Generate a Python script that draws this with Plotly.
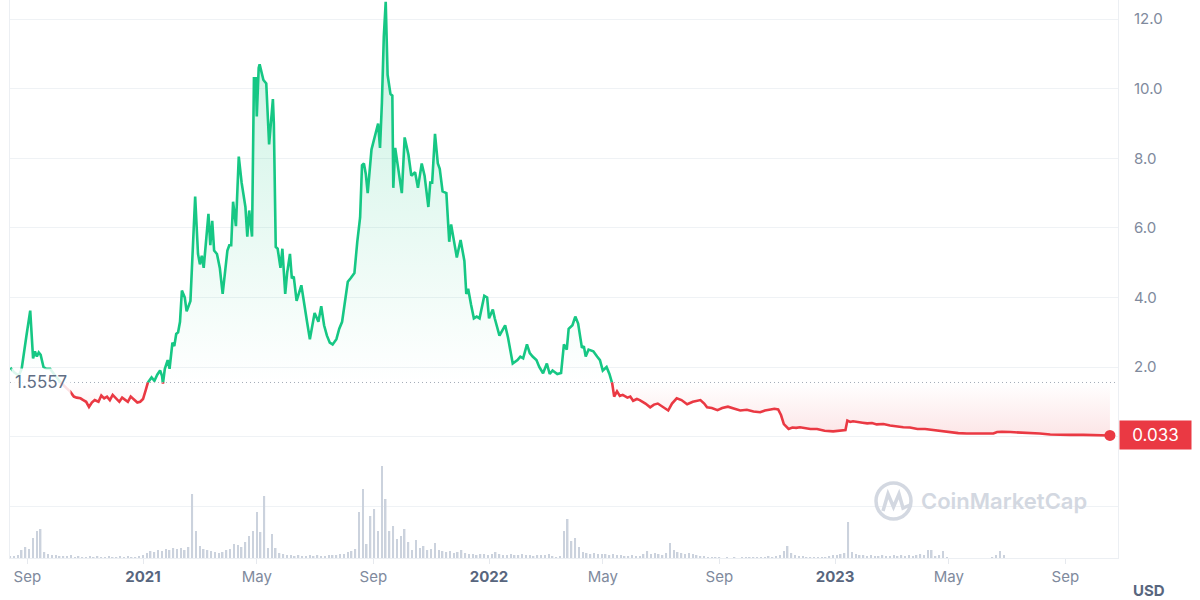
import numpy as np
import pandas as pd
import plotly.graph_objects as go

# ---------------- data ----------------
price_dates = [
    "2020-08-14", "2020-08-18", "2020-08-23", "2020-08-26", "2020-08-31",
    "2020-09-04", "2020-09-07", "2020-09-09", "2020-09-11", "2020-09-13",
    "2020-09-15", "2020-09-18", "2020-09-21", "2020-09-25", "2020-09-29",
    "2020-10-03", "2020-10-08", "2020-10-12", "2020-10-16", "2020-10-20",
    "2020-10-23", "2020-10-27", "2020-10-30", "2020-11-02", "2020-11-05",
    "2020-11-08", "2020-11-11", "2020-11-15", "2020-11-18", "2020-11-21",
    "2020-11-24", "2020-11-27", "2020-11-30", "2020-12-04", "2020-12-07",
    "2020-12-10", "2020-12-13", "2020-12-16", "2020-12-19", "2020-12-23",
    "2020-12-26", "2020-12-29", "2021-01-01", "2021-01-04", "2021-01-06",
    "2021-01-08", "2021-01-10", "2021-01-13", "2021-01-16", "2021-01-19",
    "2021-01-21", "2021-01-22", "2021-01-24", "2021-01-27", "2021-01-29",
    "2021-02-01", "2021-02-03", "2021-02-05", "2021-02-07", "2021-02-09",
    "2021-02-11", "2021-02-14", "2021-02-16", "2021-02-20", "2021-02-23",
    "2021-02-25", "2021-02-28", "2021-03-02", "2021-03-04", "2021-03-06",
    "2021-03-11", "2021-03-13", "2021-03-15", "2021-03-17", "2021-03-20",
    "2021-03-23", "2021-03-26", "2021-03-31", "2021-04-02", "2021-04-04",
    "2021-04-06", "2021-04-09", "2021-04-12", "2021-04-15", "2021-04-19",
    "2021-04-21", "2021-04-23", "2021-04-26", "2021-04-28", "2021-04-30",
    "2021-05-01", "2021-05-03", "2021-05-04", "2021-05-08", "2021-05-11",
    "2021-05-14", "2021-05-18", "2021-05-19", "2021-05-21", "2021-05-23",
    "2021-05-26", "2021-05-28", "2021-05-31", "2021-06-02", "2021-06-05",
    "2021-06-07", "2021-06-09", "2021-06-12", "2021-06-17", "2021-06-20",
    "2021-06-23", "2021-06-26", "2021-06-29", "2021-07-01", "2021-07-05",
    "2021-07-08", "2021-07-11", "2021-07-14", "2021-07-17", "2021-07-20",
    "2021-07-24", "2021-07-27", "2021-07-30", "2021-08-02", "2021-08-05",
    "2021-08-08", "2021-08-12", "2021-08-15", "2021-08-18", "2021-08-20",
    "2021-08-22", "2021-08-24", "2021-08-26", "2021-08-30", "2021-09-03",
    "2021-09-06", "2021-09-08", "2021-09-10", "2021-09-12", "2021-09-14",
    "2021-09-16", "2021-09-19", "2021-09-21", "2021-09-22", "2021-09-24",
    "2021-09-27", "2021-10-01", "2021-10-04", "2021-10-08", "2021-10-11",
    "2021-10-15", "2021-10-18", "2021-10-22", "2021-10-25", "2021-10-29",
    "2021-10-31", "2021-11-02", "2021-11-05", "2021-11-08", "2021-11-10",
    "2021-11-13", "2021-11-17", "2021-11-20", "2021-11-22", "2021-11-28",
    "2021-12-02", "2021-12-06", "2021-12-08", "2021-12-10", "2021-12-13",
    "2021-12-16", "2021-12-19", "2021-12-22", "2021-12-27", "2021-12-30",
    "2022-01-01", "2022-01-05", "2022-01-07", "2022-01-12", "2022-01-18",
    "2022-01-21", "2022-01-26", "2022-01-31", "2022-02-03", "2022-02-06",
    "2022-02-10", "2022-02-13", "2022-02-16", "2022-02-20", "2022-02-23",
    "2022-02-27", "2022-03-03", "2022-03-06", "2022-03-09", "2022-03-14",
    "2022-03-18", "2022-03-21", "2022-03-24", "2022-03-26", "2022-03-30",
    "2022-04-02", "2022-04-05", "2022-04-09", "2022-04-11", "2022-04-13",
    "2022-04-16", "2022-04-21", "2022-04-25", "2022-04-28", "2022-05-01",
    "2022-05-05", "2022-05-08", "2022-05-11", "2022-05-13", "2022-05-16",
    "2022-05-19", "2022-05-22", "2022-05-27", "2022-05-30", "2022-06-02",
    "2022-06-06", "2022-06-09", "2022-06-15", "2022-06-20", "2022-06-24",
    "2022-06-28", "2022-07-04", "2022-07-09", "2022-07-13", "2022-07-18",
    "2022-07-23", "2022-07-29", "2022-08-04", "2022-08-12", "2022-08-16",
    "2022-08-19", "2022-08-24", "2022-08-30", "2022-09-04", "2022-09-10",
    "2022-09-17", "2022-09-23", "2022-09-30", "2022-10-07", "2022-10-14",
    "2022-10-19", "2022-10-25", "2022-10-29", "2022-11-02", "2022-11-05",
    "2022-11-08", "2022-11-13", "2022-11-17", "2022-11-21", "2022-11-25",
    "2022-11-30", "2022-12-06", "2022-12-13", "2022-12-21", "2022-12-30",
    "2023-01-06", "2023-01-12", "2023-01-14", "2023-01-17", "2023-01-20",
    "2023-01-25", "2023-01-30", "2023-02-04", "2023-02-09", "2023-02-14",
    "2023-02-21", "2023-02-28", "2023-03-07", "2023-03-14", "2023-03-21",
    "2023-03-29", "2023-04-06", "2023-04-14", "2023-04-22", "2023-05-02",
    "2023-05-11", "2023-05-20", "2023-05-29", "2023-06-08", "2023-06-17",
    "2023-06-21", "2023-06-26", "2023-07-05", "2023-07-15", "2023-07-29",
    "2023-08-05", "2023-08-16", "2023-08-26", "2023-09-06", "2023-09-20",
    "2023-10-02", "2023-10-18",
]
price_values = [
    1.98, 1.85, 1.75, 1.95, 2.9,
    3.62, 2.25, 2.45, 2.3, 2.42,
    2.35, 2.0, 1.95, 1.95, 1.8,
    1.65, 1.5, 1.4, 1.3, 1.15,
    1.12, 1.1, 1.05, 1.0, 0.85,
    0.98, 1.05, 1.0, 1.18, 1.1,
    1.15, 1.05, 1.2, 1.1, 1.0,
    1.12, 1.05, 1.0, 1.15, 1.05,
    0.98, 1.0, 1.08, 1.35, 1.55,
    1.62, 1.7, 1.6, 1.78, 1.9,
    1.75, 1.52, 1.95, 2.2, 1.95,
    2.7, 2.6, 2.95, 3.0, 3.3,
    4.2, 4.0, 3.6, 3.9, 5.8,
    6.9, 5.25, 4.95, 5.2, 4.85,
    6.4, 5.5, 6.2, 5.35, 5.25,
    4.85, 4.1, 5.35, 5.5, 5.5,
    6.75, 6.05, 8.05, 7.3, 6.6,
    5.75, 6.5, 5.75, 10.3, 10.3,
    9.2, 10.6, 10.7, 10.25, 10.15,
    8.4, 9.7, 9.0, 5.45, 5.4,
    4.85, 5.4, 4.1, 4.7, 5.25,
    4.55, 4.6, 3.9, 4.35, 3.75,
    3.3, 2.8, 3.3, 3.55, 3.3,
    3.75, 3.2, 2.9, 2.7, 2.65,
    2.8, 3.1, 3.3, 3.95, 4.45,
    4.55, 4.7, 5.6, 6.3, 7.8,
    7.85, 7.55, 7.0, 8.25, 8.7,
    9.0, 8.3, 9.6, 11.5, 12.5,
    10.4, 9.85, 9.8, 7.15, 8.3,
    7.7, 7.0, 8.6, 8.1, 7.5,
    7.6, 7.15, 7.85, 7.5, 6.6,
    7.3, 7.3, 8.7, 7.85, 7.7,
    7.05, 7.0, 5.6, 6.1, 5.15,
    5.65, 5.05, 4.1, 4.25, 3.8,
    3.4, 3.45, 3.4, 4.05, 4.0,
    3.4, 3.65, 3.4, 2.9, 3.2,
    2.85, 2.1, 2.2, 2.3, 2.25,
    2.65, 2.4, 2.3, 2.2, 2.0,
    1.82, 2.1, 1.8, 1.9, 1.8,
    1.83, 2.65, 2.5, 3.1, 3.2,
    3.45, 3.25, 2.55, 2.6, 2.3,
    2.5, 2.45, 2.3, 2.2, 1.9,
    2.0, 1.8, 1.52, 1.15, 1.3,
    1.17, 1.2, 1.12, 1.15, 1.03,
    1.08, 1.05, 0.95, 0.84, 0.92,
    0.95, 0.85, 0.75, 0.95, 1.1,
    1.05, 0.93, 1.0, 1.05, 0.95,
    0.84, 0.82, 0.76, 0.82, 0.86,
    0.8, 0.75, 0.77, 0.72, 0.7,
    0.75, 0.78, 0.8, 0.78, 0.62,
    0.36, 0.22, 0.26, 0.25, 0.27,
    0.25, 0.22, 0.22, 0.17, 0.15,
    0.16, 0.19, 0.46, 0.42, 0.44,
    0.41, 0.4, 0.38, 0.39, 0.35,
    0.36, 0.32, 0.29, 0.27, 0.26,
    0.22, 0.22, 0.19, 0.17, 0.12,
    0.1, 0.09, 0.09, 0.09, 0.09,
    0.13, 0.14, 0.13, 0.12, 0.1,
    0.09, 0.06, 0.05, 0.05, 0.05,
    0.04, 0.033,
]

# trading volume (arbitrary units), one value every 4 days from volume_start
volume_start = "2020-08-14"
volume_step = "4D"
volume_values = [
    2, 2, 3, 8, 11, 9, 20, 27, 29, 6, 4,
    3, 3, 2, 2, 2, 3,
    1, 2, 1, 1, 2, 1, 2, 1, 1, 2, 1, 1, 2, 1, 2, 1, 1, 2,
    3, 5, 7, 6, 8, 7, 9, 8, 10, 9, 10, 8, 11,
    64, 27, 12, 9, 8, 7, 6, 5, 6, 8, 9,
    14, 13, 11, 16, 22, 27, 46, 26, 62, 10, 24, 10, 5, 4,
    3, 3, 2, 3, 2, 2, 3, 2, 3, 2, 2, 3, 3, 3, 4, 4,
    6, 7, 9,
    46, 69, 14, 42, 49, 27, 92, 59, 27, 32, 19, 22, 29, 16,
    8, 18, 10, 12, 8, 9, 15, 8, 7, 6, 7, 5, 6, 8,
    5, 4, 4, 3, 4, 4, 3, 4, 6, 4, 3,
    3, 4, 3, 3, 4, 3, 3, 2, 3,
    3, 3, 4, 2, 1, 2,
    27, 39, 17, 20, 11, 6, 5, 4, 5, 4, 4, 4, 3, 4,
    3, 3, 2, 2, 3, 2, 2, 4, 7, 4, 5, 4, 3, 5,
    15, 8, 6, 5, 4, 5, 4, 3, 2, 2, 1, 1, 1,
    1, 0, 1, 0, 1, 0, 1, 1, 1,
    1, 1, 1, 1, 2, 1, 2, 3, 7, 12, 5, 3, 2, 2, 1,
    1, 1, 1, 1, 1, 2, 3, 3, 4,
    5, 36, 6, 4, 3, 3, 2, 3, 2, 2, 3, 2, 2, 3, 2, 3, 2, 3, 2, 3,
    4, 3, 8, 8, 2, 3, 7, 1,
    0, 0, 0, 0, 0, 0, 0, 0, 0, 0, 0,
    1, 3, 7, 3,
    0, 0, 0, 0, 0, 0, 0, 0, 0, 0, 0, 0, 0, 0,
    0, 0, 0, 0, 0, 0, 0, 0, 0, 0, 0, 0, 0, 0,
]

baseline_value = 1.5557
baseline_label = "1.5557"
last_price_label = "0.033"

y_tick_values = [-2, 0, 2, 4, 6, 8, 10, 12]
y_tick_labels = ["", "", "2.0", "4.0", "6.0", "8.0", "10.0", "12.0"]

x_tick_dates = ["2020-09-01", "2021-01-01", "2021-05-01", "2021-09-01", "2022-01-01",
                "2022-05-01", "2022-09-01", "2023-01-01", "2023-05-01", "2023-09-01"]
x_tick_labels = ["Sep", "2021", "May", "Sep", "2022", "May", "Sep", "2023", "May", "Sep"]

assert len(price_dates) == len(price_values)

# ---------------- colours ----------------
GREEN = "#16c784"
RED = "#ea3943"
GRID = "#eff2f5"
TICK = "#808a9d"
DARK = "#58667e"

# ---------------- split series at the baseline ----------------
B = baseline_value
t = pd.to_datetime(price_dates).values.astype("datetime64[ns]").astype("int64")
v = np.array(price_values, dtype=float)
xs, ys = [t[0]], [v[0]]
for i in range(1, len(v)):
    a, b = v[i - 1], v[i]
    if (a - B) * (b - B) < 0:
        f = (B - a) / (b - a)
        xs.append(int(t[i - 1] + f * (t[i] - t[i - 1])))
        ys.append(B)
    xs.append(t[i])
    ys.append(b)
X = pd.to_datetime(np.array(xs, dtype="int64"))
Y = np.array(ys)
green_y = [y if y >= B else None for y in Y]
red_y = [y if y <= B else None for y in Y]
upper = np.maximum(Y, B)
lower = np.minimum(Y, B)

vol_dates = pd.date_range(volume_start, periods=len(volume_values), freq=volume_step)

fig = go.Figure()

# volume bars
fig.add_trace(go.Bar(x=vol_dates, y=volume_values, yaxis="y2",
                     marker=dict(color="#cbd2dd", line=dict(width=0)),
                     width=1.6 * 86400000, hoverinfo="skip"))

# fills
fig.add_trace(go.Scatter(x=X, y=[B] * len(X), mode="lines", line=dict(width=0),
                         hoverinfo="skip"))
fig.add_trace(go.Scatter(x=X, y=upper, mode="lines", line=dict(width=0), fill="tonexty",
                         fillgradient=dict(type="vertical",
                                           colorscale=[[0, "rgba(22,199,132,0.0)"],
                                                       [1, "rgba(22,199,132,0.24)"]]),
                         hoverinfo="skip"))
fig.add_trace(go.Scatter(x=X, y=[B] * len(X), mode="lines", line=dict(width=0),
                         hoverinfo="skip"))
fig.add_trace(go.Scatter(x=X, y=lower, mode="lines", line=dict(width=0), fill="tonexty",
                         fillgradient=dict(type="vertical",
                                           colorscale=[[0, "rgba(234,57,67,0.13)"],
                                                       [1, "rgba(234,57,67,0.0)"]]),
                         hoverinfo="skip"))

# lines
fig.add_trace(go.Scatter(x=X, y=green_y, mode="lines", line=dict(color=GREEN, width=2.6),
                         connectgaps=False))
fig.add_trace(go.Scatter(x=X, y=red_y, mode="lines", line=dict(color=RED, width=2.6),
                         connectgaps=False))
# last point marker
fig.add_trace(go.Scatter(x=[pd.to_datetime(price_dates[-1])], y=[price_values[-1]],
                         mode="markers", marker=dict(color=RED, size=11)))

# ---------------- layout helpers (pixel -> paper, decoration only) ----------------
L, R, T, BOT = 10, 1118, 0, 558
def px(xp):
    return (xp - L) / (R - L)
def py(yp):
    return (BOT - yp) / (BOT - T)

ticktext = []
for lab in x_tick_labels:
    if lab.isdigit():
        ticktext.append('<span style="color:%s"><b>%s</b></span>' % (DARK, lab))
    else:
        ticktext.append(lab)

fig.update_layout(
    width=1200, height=600,
    margin=dict(l=L, r=1200 - R, t=T, b=600 - BOT),
    paper_bgcolor="white", plot_bgcolor="white",
    showlegend=False,
    font=dict(family="Inter, sans-serif"),
    xaxis=dict(type="date", range=["2020-08-13 16:00", "2023-10-26 12:00"],
               tickvals=x_tick_dates, ticktext=ticktext,
               showgrid=False, zeroline=False,
               ticks="outside", ticklen=5, tickcolor="#e6e9ee",
               tickfont=dict(size=15, color=TICK),
               showline=True, linecolor="#eceff3", mirror=True),
    yaxis=dict(side="right", range=[-3.49, 12.55],
               tickvals=y_tick_values, ticktext=y_tick_labels,
               showgrid=True, gridcolor=GRID, zeroline=False,
               showline=True, linecolor="#eceff3", mirror=True,
               ticks="", ticklabelstandoff=12,
               tickfont=dict(size=15, color=TICK)),
    yaxis2=dict(overlaying="y", range=[0, 558], visible=False),
)

# dotted baseline
fig.add_shape(type="line", xref="paper", x0=0, x1=1, yref="y", y0=B, y1=B,
              line=dict(color="#a3abb8", width=1, dash="1px,3px"), layer="above")

# baseline label
fig.add_annotation(xref="paper", x=0, xanchor="left", xshift=1, yref="y", y=B,
                   yanchor="middle",
                   text=baseline_label, showarrow=False,
                   font=dict(size=17, color="#616e85"),
                   bgcolor="rgba(255,255,255,0.85)", borderpad=3)

# last price label
fig.add_annotation(xref="paper", x=1, xanchor="left", xshift=1, yref="y",
                   y=price_values[-1], yanchor="middle", text=last_price_label,
                   showarrow=False,
                   font=dict(size=17, color="white"), bgcolor=RED,
                   width=67, height=24, borderpad=2)

# USD unit
fig.add_annotation(xref="paper", x=px(1149), xanchor="center", yref="paper", y=py(590),
                   yanchor="middle", text="<b>USD</b>", showarrow=False,
                   font=dict(size=15, color=DARK))

# watermark
WM = "#d3d8e1"
fig.add_annotation(xref="paper", x=px(1004), xanchor="center", yref="paper", y=py(501),
                   yanchor="middle", text="CoinMarketCap", showarrow=False,
                   font=dict(size=22, color=WM, weight=600))
fig.add_shape(type="circle", xref="paper", yref="paper",
              x0=px(876), x1=px(911), y0=py(519), y1=py(483),
              line=dict(color=WM, width=3.5), layer="above")
pts = [(883, 511), (888, 494), (893.5, 507), (899, 494), (903, 508), (910, 505)]
path = "M " + " L ".join("%f,%f" % (px(a), py(b)) for a, b in pts)
fig.add_shape(type="path", xref="paper", yref="paper", path=path,
              line=dict(color=WM, width=3.5), layer="above")

fig.write_html("out.html")
